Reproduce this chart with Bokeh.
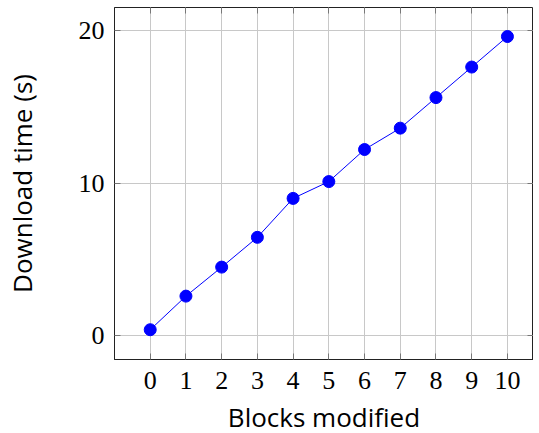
from bokeh.plotting import figure
from bokeh.models import Range1d, LinearAxis, FixedTicker
from bokeh.embed import file_html
from bokeh.resources import INLINE

blocks = [0, 1, 2, 3, 4, 5, 6, 7, 8, 9, 10]
times = [0.4, 2.6, 4.5, 6.45, 9.0, 10.1, 12.2, 13.6, 15.6, 17.6, 19.6]
x_ticks = [0, 1, 2, 3, 4, 5, 6, 7, 8, 9, 10]
y_ticks = [0, 10, 20]

p = figure(frame_width=419, frame_height=352, output_backend="svg", toolbar_location=None,
           x_range=Range1d(-1.0, 10.73), y_range=Range1d(-1.55, 21.5),
           min_border_left=113, min_border_right=0, min_border_top=7, min_border_bottom=66)
p.outline_line_color = "#222222"
p.outline_line_width = 1
p.background_fill_color = "white"

p.line(blocks, times, line_color="#0000ff", line_width=1)
p.scatter(blocks, times, size=12, fill_color="#0000ff", line_color="#0000ff")

serif = "Liberation Serif"
sans = "Open Sans"
for ax, ticks in ((p.xaxis[0], x_ticks), (p.yaxis[0], y_ticks)):
    ax.ticker = FixedTicker(ticks=ticks)
    ax.major_tick_in = 6
    ax.major_tick_out = 0
    ax.minor_tick_line_color = None
    ax.major_tick_line_color = "#777777"
    ax.axis_line_color = "#222222"
    ax.major_label_text_font = serif
    ax.major_label_text_font_size = "26px"
    ax.major_label_text_color = "black"
    ax.axis_label_text_font = sans
    ax.axis_label_text_font_size = "26px"
    ax.axis_label_text_font_style = "normal"
    ax.axis_label_text_color = "black"

p.xaxis.axis_label = "Blocks modified"
p.yaxis.axis_label = "Download time (s)"
p.xaxis.major_label_standoff = 12
p.yaxis.major_label_standoff = 10
p.xaxis.axis_label_standoff = 7
p.yaxis.axis_label_standoff = 36
p.yaxis.axis_label_text_baseline = "top"

for side, ticks in (("above", x_ticks), ("right", y_ticks)):
    ax = LinearAxis(ticker=FixedTicker(ticks=ticks), major_label_text_font_size="0px",
                    major_tick_in=6, major_tick_out=0, minor_tick_line_color=None,
                    major_tick_line_color="#777777", axis_line_color=None,
                    major_label_standoff=0)
    p.add_layout(ax, side)

p.xgrid.ticker = FixedTicker(ticks=x_ticks)
p.ygrid.ticker = FixedTicker(ticks=y_ticks)
p.grid.grid_line_color = "#c8c8c8"
p.grid.grid_line_width = 1

open("out.html", "w").write(file_html(p, INLINE))
